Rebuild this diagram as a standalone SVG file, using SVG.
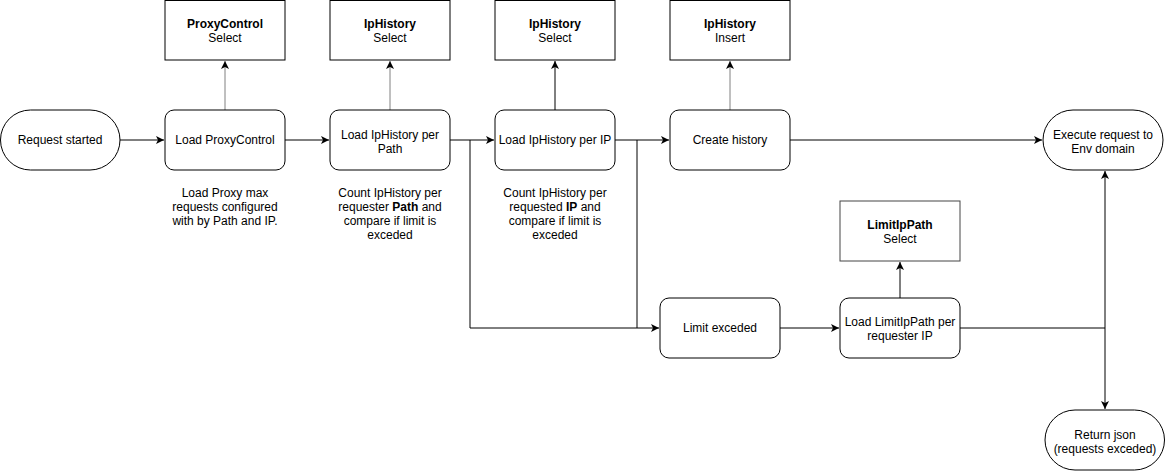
<svg xmlns="http://www.w3.org/2000/svg" width="1165" height="472" viewBox="0 0 1165 472">
<defs>
<style>
text{font-family:"Liberation Sans",Arial,sans-serif;font-size:12px;fill:#000;text-anchor:middle}
.b{font-weight:bold}
.node{fill:#fff;stroke:#000;stroke-width:1}
.c{fill:none;stroke:#000;stroke-width:1}
.g{stroke:#808080}
</style>
<marker id="arr" markerWidth="10" markerHeight="10" refX="8" refY="4" orient="auto" markerUnits="userSpaceOnUse">
<path d="M0,0 L8,4 L0,8 L2,4 z" fill="#000"/>
</marker>
</defs>
<rect width="1165" height="472" fill="#fff"/>
<g id="connectors">
<path class="c" d="M120,140 H164" marker-end="url(#arr)"/>
<path class="c" d="M285,140 H329" marker-end="url(#arr)"/>
<path class="c" d="M450,140 H494" marker-end="url(#arr)"/>
<path class="c" d="M615,140 H669" marker-end="url(#arr)"/>
<path class="c" d="M790,140 H1042" marker-end="url(#arr)"/>
<path class="c g" d="M225,110 V61" marker-end="url(#arr)"/>
<path class="c g" d="M390,110 V61" marker-end="url(#arr)"/>
<path class="c" d="M555,110 V61" marker-end="url(#arr)"/>
<path class="c g" d="M730,110 V61" marker-end="url(#arr)"/>
<path class="c" d="M470,140 V328 H659" marker-end="url(#arr)"/>
<path class="c" d="M637,140 V328"/>
<path class="c" d="M780,328 H839" marker-end="url(#arr)"/>
<path class="c" d="M900,298 V262" marker-end="url(#arr)"/>
<path class="c" d="M960,328 H1105 V171" marker-end="url(#arr)"/>
<path class="c" d="M1105,328 V409" marker-end="url(#arr)"/>
</g>
<g id="request-started"><rect class="node" x="0.5" y="110" width="119.5" height="60" rx="30"/><text x="60" y="144">Request started</text></g>
<g id="load-proxycontrol"><rect class="node" x="165" y="110" width="120" height="60" rx="9"/><text x="225" y="144">Load ProxyControl</text></g>
<g id="proxycontrol-select"><rect class="node" x="165" y="0.5" width="120" height="59.5"/><text x="225" y="28" class="b">ProxyControl</text><text x="225" y="42">Select</text></g>
<g id="note-proxy"><text x="225" y="197">Load Proxy max</text><text x="225" y="211">requests configured</text><text x="225" y="225">with by Path and IP.</text></g>
<g id="load-iphistory-path"><rect class="node" x="330" y="110" width="120" height="60" rx="9"/><text x="390" y="139">Load IpHistory per</text><text x="390" y="153">Path</text></g>
<g id="iphistory-select-1"><rect class="node" x="330" y="0.5" width="120" height="59.5"/><text x="390" y="28" class="b">IpHistory</text><text x="390" y="42">Select</text></g>
<g id="note-path"><text x="390" y="197">Count IpHistory per</text><text x="390" y="211">requester <tspan class="b">Path</tspan> and</text><text x="390" y="225">compare if limit is</text><text x="390" y="239">exceded</text></g>
<g id="load-iphistory-ip"><rect class="node" x="495" y="110" width="120" height="60" rx="9"/><text x="555" y="144">Load IpHistory per IP</text></g>
<g id="iphistory-select-2"><rect class="node" x="495" y="0.5" width="120" height="59.5"/><text x="555" y="28" class="b">IpHistory</text><text x="555" y="42">Select</text></g>
<g id="note-ip"><text x="555" y="197">Count IpHistory per</text><text x="555" y="211">requested <tspan class="b">IP</tspan> and</text><text x="555" y="225">compare if limit is</text><text x="555" y="239">exceded</text></g>
<g id="create-history"><rect class="node" x="670" y="110" width="120" height="60" rx="9"/><text x="730" y="144">Create history</text></g>
<g id="iphistory-insert"><rect class="node" x="670" y="0.5" width="120" height="59.5"/><text x="730" y="28" class="b">IpHistory</text><text x="730" y="42">Insert</text></g>
<g id="execute-request"><rect class="node" x="1043" y="110" width="120" height="60" rx="30"/><text x="1103" y="139">Execute request to</text><text x="1103" y="153">Env domain</text></g>
<g id="limit-exceded"><rect class="node" x="660" y="298" width="120" height="60" rx="9"/><text x="720" y="332">Limit exceded</text></g>
<g id="load-limitippath"><rect class="node" x="840" y="298" width="120" height="60" rx="9"/><text x="900" y="326">Load LimitIpPath per</text><text x="900" y="340">requester IP</text></g>
<g id="limitippath-select"><rect class="node" x="840" y="201" width="120" height="60" style="stroke:#444"/><text x="900" y="229" class="b">LimitIpPath</text><text x="900" y="243">Select</text></g>
<g id="return-json"><rect class="node" x="1045" y="410" width="119.5" height="60" rx="30"/><text x="1105" y="439">Return json</text><text x="1105" y="453">(requests exceded)</text></g>
</svg>
